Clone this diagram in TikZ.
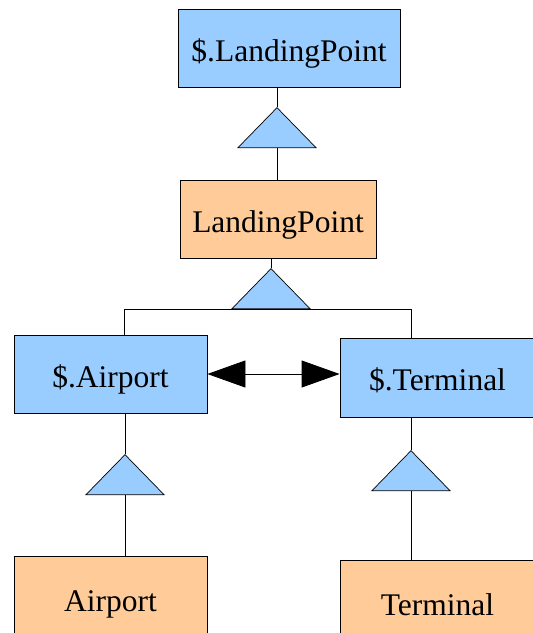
\documentclass[tikz,border=0pt]{standalone}
\usepackage{fontspec}
\setmainfont{Liberation Serif}
\usetikzlibrary{shapes.geometric,arrows.meta}
\definecolor{absblue}{HTML}{99CCFF}
\definecolor{conorange}{HTML}{FFCC99}
\tikzset{%
  abs/.style={draw,fill=absblue,line width=.8pt,minimum height=78pt,inner sep=0pt,
    text height=26pt,text depth=0pt},
  con/.style={draw,fill=conorange,line width=.8pt,minimum height=78pt,inner sep=0pt,
    text height=26pt,text depth=0pt},
  isa/.style={draw,fill=absblue,line width=.7pt,isosceles triangle,shape border rotate=90,
    isosceles triangle stretches,minimum width=78pt,minimum height=40pt,inner sep=0pt,
    anchor=south},
  link/.style={line width=.8pt}
}

\begin{document}
\begin{tikzpicture}[x=1pt,y=-1pt,font=\fontsize{31.5pt}{36pt}\selectfont]
  \useasboundingbox (0,0) rectangle (533,633);

  \node [abs,minimum width=222pt] (slp) at (289,48) {\$.LandingPoint};
  \node [con,minimum width=196pt] (lp) at (278,219.5) {LandingPoint};
  \node [abs,minimum width=193pt] (sap) at (110.5,374) {\$.Airport};
  \node [abs,minimum width=195pt,minimum height=79pt] (stm) at (437.5,377.5) {\$.Terminal};
  \node [con,minimum width=193pt,minimum height=84pt] (ap) at (110.5,598) {Airport};
  \node [con,minimum width=195pt,minimum height=84pt] (tm) at (437.5,602) {Terminal};

  % triangles placed by the middle of their base
  \node [isa] (i1) at (277,148) {};
  \node [isa] (i2) at (271,309) {};
  \node [isa] (i3) at (125,495) {};
  \node [isa] (i4) at (411,491) {};

  \coordinate (jl) at (124,309);
  \coordinate (jr) at (411,309);

  \draw [link] (i1.north) -- (i1.north |- slp.south);
  \draw [link] (i1.south) -- (i1.south |- lp.north);
  \draw [link] (i2.north) -- (i2.north |- lp.south);
  \draw [link] (jl) -- (jr);
  \draw [link] (jl) -- (jl |- sap.north);
  \draw [link] (jr) -- (jr |- stm.north);
  \draw [link] (i3.north) -- (i3.north |- sap.south);
  \draw [link] (i3.south) -- (i3.south |- ap.north);
  \draw [link] (i4.north) -- (i4.north |- stm.south);
  \draw [link] (i4.south) -- (i4.south |- tm.north);

  \draw [link,{Triangle[length=38pt,width=27pt]}-{Triangle[length=38pt,width=27pt]}]
    (sap.east) -- (stm.west |- sap.east);
\end{tikzpicture}
\end{document}
